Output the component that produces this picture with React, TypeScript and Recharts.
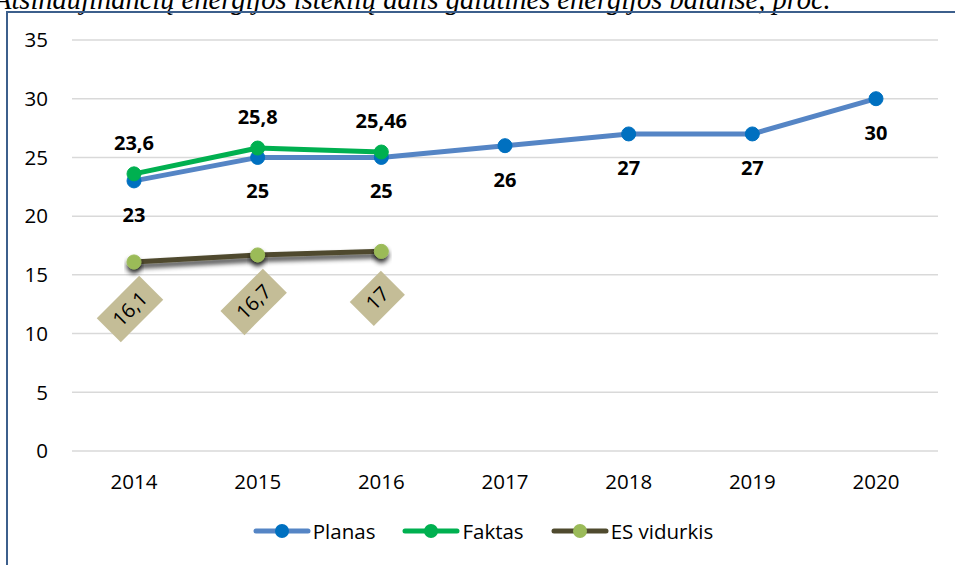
import React from 'react';
import { LineChart, Line, XAxis, YAxis, CartesianGrid, Legend } from 'recharts';

const years = ['2014', '2015', '2016', '2017', '2018', '2019', '2020'];
const planas = [23, 25, 25, 26, 27, 27, 30];
const faktas = [23.6, 25.8, 25.46, null, null, null, null];
const esVidurkis = [16.1, 16.7, 17, null, null, null, null];
const yTicks = [0, 5, 10, 15, 20, 25, 30, 35];

const data = years.map((year, i) => ({
  year,
  planas: planas[i],
  faktas: faktas[i],
  es: esVidurkis[i],
}));

const FONT = '"Open Sans", sans-serif';
const fmt = (v: number) => String(v).replace('.', ',');

const legendItems = [
  { name: 'Planas', line: '#5585c5', dot: '#0070c0' },
  { name: 'Faktas', line: '#00b050', dot: '#00b050' },
  { name: 'ES vidurkis', line: '#4f4a2e', dot: '#9bbb59' },
];

function LegendContent() {
  return (
    <div style={{ display: 'flex', justifyContent: 'center', gap: 27, height: 40, alignItems: 'center', paddingLeft: 28, fontFamily: FONT, fontSize: 20.5 }}>
      {legendItems.map((it) => (
        <div key={it.name} style={{ display: 'flex', alignItems: 'center' }}>
          <svg width={58} height={16}>
            <line x1={3} y1={8} x2={55} y2={8} stroke={it.line} strokeWidth={5} strokeLinecap="round" />
            <circle cx={29} cy={8} r={7} fill={it.dot} />
          </svg>
          <span style={{ marginLeft: 2, color: '#000' }}>{it.name}</span>
        </div>
      ))}
    </div>
  );
}

const belowLabel = (props: any) => {
  const { x, y, value } = props;
  if (value == null) return null;
  return (
    <text x={x} y={y + 41} textAnchor="middle" fontFamily={FONT} fontSize={20} fontWeight={700} fill="#000">
      {fmt(value)}
    </text>
  );
};

const aboveLabel = (props: any) => {
  const { x, y, value } = props;
  if (value == null) return null;
  return (
    <text x={x} y={y - 24} textAnchor="middle" fontFamily={FONT} fontSize={20} fontWeight={700} fill="#000">
      {fmt(value)}
    </text>
  );
};

const boxLabel = (props: any) => {
  const { x, y, value } = props;
  if (value == null) return null;
  const txt = fmt(value);
  const w = txt.length > 2 ? 60 : 44;
  const h = 34;
  return (
    <g transform={`translate(${x - 4}, ${y + 47}) rotate(-45)`}>
      <rect x={-w / 2} y={-h / 2} width={w} height={h} fill="#c4bd97" />
      <text x={0} y={7} textAnchor="middle" fontFamily={FONT} fontSize={20} fill="#000">
        {txt}
      </text>
    </g>
  );
};

export default function App() {
  return (
    <div style={{ position: 'absolute', left: 0, top: 0, width: 955, height: 565, overflow: 'hidden', background: '#fff' }}>
      <div
        style={{
          position: 'absolute',
          left: -6,
          top: -14,
          whiteSpace: 'nowrap',
          fontFamily: '"Liberation Serif", serif',
          fontStyle: 'italic',
          fontSize: 28.5,
          lineHeight: '28px',
          color: '#000',
        }}
      >
        Atsinaujinančių energijos išteklių dalis galutinės energijos balanse, proc.
      </div>
      <div style={{ position: 'absolute', left: 0, top: 0 }}>
        <LineChart width={955} height={565} data={data} margin={{ top: 40, right: 17, bottom: 14, left: 0 }}>
          <defs>
            <filter id="shadow" x="-20%" y="-200%" width="140%" height="500%">
              <feGaussianBlur in="SourceAlpha" stdDeviation="2.5" />
              <feOffset dx="0" dy="4" result="b" />
              <feComponentTransfer>
                <feFuncA type="linear" slope="0.8" />
              </feComponentTransfer>
              <feMerge>
                <feMergeNode />
                <feMergeNode in="SourceGraphic" />
              </feMerge>
            </filter>
          </defs>
          <CartesianGrid vertical={false} stroke="#d9d9d9" strokeWidth={1.5} />
          <XAxis
            dataKey="year"
            axisLine={false}
            tickLine={false}
            height={60}
            tickMargin={17}
            padding={{ left: 62, right: 62 }}
            tick={{ fontFamily: FONT, fontSize: 20.5, fill: '#000' }}
          />
          <YAxis
            domain={[0, 35]}
            ticks={yTicks}
            axisLine={false}
            tickLine={false}
            width={72}
            tickMargin={18}
            tick={{ fontFamily: FONT, fontSize: 20.5, fill: '#000' }}
          />
          <Legend verticalAlign="bottom" height={40} content={<LegendContent />} />
          <Line
            dataKey="planas"
            name="Planas"
            stroke="#5585c5"
            strokeWidth={5}
            dot={{ r: 7, fill: '#0070c0', stroke: '#0070c0', strokeWidth: 1 }}
            label={belowLabel}
            isAnimationActive={false}
          />
          <Line
            dataKey="faktas"
            name="Faktas"
            stroke="#00b050"
            strokeWidth={5}
            dot={{ r: 7, fill: '#00b050', stroke: '#00b050', strokeWidth: 1 }}
            label={aboveLabel}
            isAnimationActive={false}
          />
          <Line
            dataKey="es"
            name="ES vidurkis"
            stroke="#4f4a2e"
            strokeWidth={5}
            filter="url(#shadow)"
            dot={{ r: 7, fill: '#9bbb59', stroke: '#9bbb59', strokeWidth: 1 }}
            label={boxLabel}
            isAnimationActive={false}
          />
        </LineChart>
      </div>
      <div
        style={{
          position: 'absolute',
          left: 6,
          top: 11,
          width: 960,
          height: 570,
          borderLeft: '2px solid #3c5f8c',
          borderTop: '2px solid #3c5f8c',
          boxSizing: 'border-box',
          pointerEvents: 'none',
        }}
      />
    </div>
  );
}
